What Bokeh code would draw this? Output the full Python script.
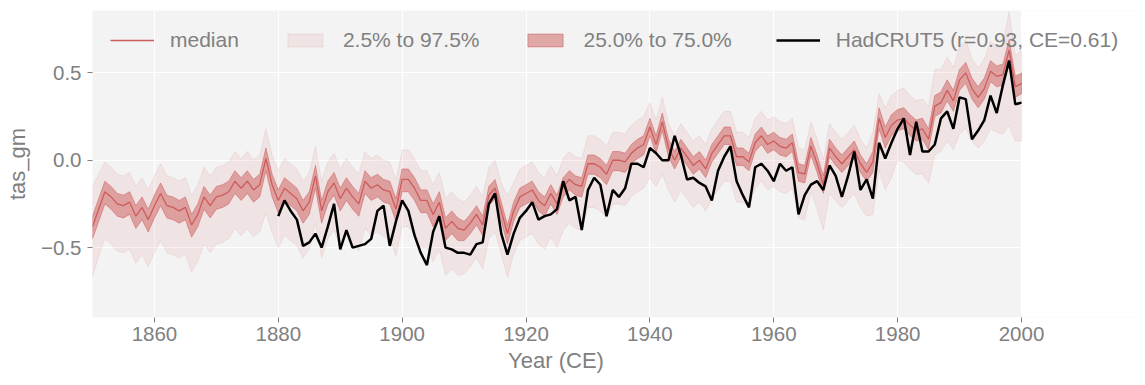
from bokeh.plotting import figure
from bokeh.models import Legend, LegendItem, FixedTicker, Range1d, BoxAnnotation, Title
from bokeh.embed import file_html
from bokeh.resources import INLINE

# ---------------- data ----------------
years = list(range(1850, 2001))

median = [
    -0.38, -0.28, -0.18, -0.21, -0.25, -0.26, -0.24, -0.32, -0.27, -0.34,
    -0.26, -0.19, -0.26, -0.27, -0.29, -0.27, -0.37, -0.31, -0.21, -0.26,
    -0.21, -0.20, -0.18, -0.12, -0.16, -0.12, -0.17, -0.14, 0.01, -0.14,
    -0.23, -0.16, -0.19, -0.22, -0.29, -0.24, -0.09, -0.29, -0.18, -0.13,
    -0.22, -0.16, -0.21, -0.25, -0.12, -0.16, -0.14, -0.17, -0.18, -0.28,
    -0.11, -0.11, -0.16, -0.23, -0.23, -0.31, -0.24, -0.39, -0.35, -0.39,
    -0.40, -0.36, -0.31, -0.37, -0.20, -0.16, -0.29, -0.42, -0.29, -0.21,
    -0.19, -0.17, -0.23, -0.26, -0.19, -0.25, -0.15, -0.11, -0.14, -0.15,
    -0.02, -0.02, -0.04, -0.08, 0.00, 0.00, -0.01, 0.04, 0.07, 0.09,
    0.19, 0.09, 0.22, 0.07, 0.00, 0.07, 0.02, -0.03, 0.00, -0.05,
    0.04, 0.09, 0.14, 0.14, 0.02, 0.02, -0.01, 0.10, 0.14, 0.09,
    0.11, 0.08, 0.07, 0.10, -0.07, -0.08, 0.08, -0.02, -0.14, 0.07,
    0.02, -0.02, 0.02, 0.06, -0.02, -0.07, -0.01, 0.24, 0.13, 0.20,
    0.23, 0.24, 0.20, 0.17, 0.18, 0.12, 0.31, 0.33, 0.40, 0.34,
    0.46, 0.50, 0.41, 0.36, 0.41, 0.51, 0.48, 0.49, 0.63, 0.42,
    0.44,
]

q75 = [
    -0.32, -0.22, -0.12, -0.15, -0.19, -0.20, -0.18, -0.26, -0.21, -0.28,
    -0.20, -0.13, -0.20, -0.21, -0.23, -0.21, -0.31, -0.25, -0.15, -0.20,
    -0.15, -0.14, -0.12, -0.06, -0.10, -0.06, -0.11, -0.08, 0.07, -0.08,
    -0.17, -0.10, -0.13, -0.16, -0.23, -0.18, -0.03, -0.23, -0.12, -0.07,
    -0.16, -0.10, -0.15, -0.19, -0.06, -0.10, -0.08, -0.11, -0.12, -0.22,
    -0.05, -0.05, -0.10, -0.17, -0.17, -0.25, -0.18, -0.33, -0.29, -0.33,
    -0.35, -0.31, -0.26, -0.32, -0.15, -0.11, -0.24, -0.37, -0.24, -0.16,
    -0.14, -0.12, -0.18, -0.21, -0.14, -0.20, -0.10, -0.06, -0.09, -0.10,
    0.03, 0.03, 0.01, -0.03, 0.05, 0.05, 0.04, 0.09, 0.12, 0.14,
    0.24, 0.14, 0.27, 0.12, 0.05, 0.12, 0.07, 0.02, 0.05, 0.00,
    0.09, 0.14, 0.19, 0.19, 0.07, 0.07, 0.04, 0.15, 0.19, 0.14,
    0.16, 0.13, 0.12, 0.15, -0.02, -0.03, 0.13, 0.03, -0.09, 0.12,
    0.07, 0.03, 0.07, 0.11, 0.03, -0.02, 0.05, 0.30, 0.19, 0.26,
    0.29, 0.30, 0.26, 0.23, 0.24, 0.18, 0.37, 0.39, 0.46, 0.40,
    0.52, 0.56, 0.47, 0.42, 0.47, 0.57, 0.54, 0.55, 0.69, 0.48,
    0.50,
]

q25 = [
    -0.45, -0.35, -0.25, -0.28, -0.32, -0.33, -0.31, -0.39, -0.34, -0.41,
    -0.33, -0.26, -0.33, -0.34, -0.36, -0.34, -0.44, -0.38, -0.28, -0.33,
    -0.28, -0.27, -0.25, -0.19, -0.23, -0.19, -0.24, -0.21, -0.06, -0.21,
    -0.30, -0.23, -0.26, -0.29, -0.36, -0.31, -0.16, -0.36, -0.25, -0.20,
    -0.29, -0.23, -0.28, -0.32, -0.19, -0.23, -0.21, -0.24, -0.25, -0.35,
    -0.18, -0.18, -0.23, -0.30, -0.30, -0.38, -0.31, -0.46, -0.42, -0.46,
    -0.46, -0.42, -0.37, -0.43, -0.26, -0.22, -0.35, -0.48, -0.35, -0.27,
    -0.25, -0.23, -0.29, -0.32, -0.25, -0.31, -0.21, -0.17, -0.20, -0.21,
    -0.08, -0.08, -0.10, -0.14, -0.06, -0.06, -0.07, -0.02, 0.01, 0.03,
    0.14, 0.04, 0.17, 0.02, -0.05, 0.02, -0.03, -0.08, -0.05, -0.10,
    -0.01, 0.04, 0.09, 0.09, -0.03, -0.03, -0.06, 0.05, 0.09, 0.04,
    0.06, 0.03, 0.02, 0.05, -0.12, -0.13, 0.03, -0.07, -0.19, 0.02,
    -0.03, -0.07, -0.03, 0.01, -0.07, -0.12, -0.07, 0.18, 0.07, 0.14,
    0.17, 0.18, 0.14, 0.11, 0.12, 0.06, 0.25, 0.27, 0.34, 0.28,
    0.40, 0.44, 0.35, 0.30, 0.35, 0.45, 0.42, 0.43, 0.57, 0.36,
    0.38,
]

q975 = [
    -0.15, -0.08, -0.01, -0.04, -0.08, -0.09, -0.07, -0.15, -0.10, -0.17,
    -0.09, -0.02, -0.09, -0.10, -0.12, -0.10, -0.20, -0.14, -0.04, -0.09,
    -0.04, -0.03, -0.01, 0.05, 0.01, 0.05, 0.00, 0.03, 0.18, 0.03,
    -0.06, 0.01, -0.02, -0.05, -0.12, -0.07, 0.08, -0.12, -0.01, 0.04,
    -0.05, 0.01, -0.04, -0.08, 0.05, 0.01, 0.03, 0.00, -0.01, -0.11,
    0.06, 0.06, 0.01, -0.06, -0.06, -0.14, -0.07, -0.22, -0.18, -0.22,
    -0.24, -0.20, -0.15, -0.21, -0.04, 0.00, -0.13, -0.20, -0.13, -0.05,
    -0.03, -0.01, -0.07, -0.10, -0.03, -0.09, 0.01, 0.05, 0.02, 0.01,
    0.14, 0.14, 0.12, 0.08, 0.16, 0.16, 0.15, 0.20, 0.23, 0.25,
    0.33, 0.23, 0.36, 0.21, 0.14, 0.21, 0.16, 0.11, 0.14, 0.09,
    0.18, 0.23, 0.28, 0.28, 0.16, 0.16, 0.13, 0.24, 0.28, 0.23,
    0.25, 0.22, 0.21, 0.24, 0.07, 0.06, 0.22, 0.12, 0.00, 0.21,
    0.16, 0.12, 0.16, 0.20, 0.12, 0.07, 0.16, 0.38, 0.30, 0.37,
    0.40, 0.41, 0.37, 0.34, 0.35, 0.31, 0.52, 0.52, 0.59, 0.53,
    0.65, 0.69, 0.58, 0.53, 0.58, 0.68, 0.65, 0.66, 0.85, 0.60,
    0.63,
]

q025 = [
    -0.67, -0.55, -0.45, -0.48, -0.52, -0.53, -0.51, -0.59, -0.54, -0.61,
    -0.53, -0.46, -0.53, -0.54, -0.56, -0.54, -0.64, -0.58, -0.48, -0.53,
    -0.48, -0.47, -0.45, -0.39, -0.43, -0.39, -0.44, -0.41, -0.30, -0.41,
    -0.50, -0.43, -0.46, -0.49, -0.56, -0.51, -0.36, -0.56, -0.45, -0.40,
    -0.49, -0.43, -0.48, -0.52, -0.39, -0.43, -0.41, -0.44, -0.45, -0.55,
    -0.38, -0.38, -0.43, -0.50, -0.50, -0.58, -0.51, -0.66, -0.62, -0.66,
    -0.65, -0.61, -0.56, -0.62, -0.45, -0.41, -0.54, -0.67, -0.54, -0.46,
    -0.44, -0.42, -0.48, -0.51, -0.44, -0.50, -0.40, -0.36, -0.39, -0.40,
    -0.27, -0.27, -0.29, -0.33, -0.25, -0.25, -0.26, -0.21, -0.18, -0.16,
    -0.10, -0.15, -0.08, -0.17, -0.24, -0.17, -0.22, -0.27, -0.24, -0.29,
    -0.22, -0.17, -0.12, -0.12, -0.24, -0.24, -0.27, -0.16, -0.12, -0.17,
    -0.15, -0.18, -0.19, -0.16, -0.33, -0.34, -0.18, -0.28, -0.40, -0.19,
    -0.23, -0.27, -0.23, -0.19, -0.27, -0.32, -0.31, -0.06, -0.17, -0.10,
    0.00, -0.01, -0.05, -0.08, -0.08, -0.13, 0.03, 0.05, 0.11, 0.06,
    0.15, 0.18, 0.11, 0.07, 0.11, 0.18, 0.16, 0.15, 0.20, 0.11,
    0.11,
]

had_years = list(range(1880, 2001))
hadcrut = [
    -0.32, -0.23, -0.29, -0.34, -0.49, -0.47, -0.42, -0.50, -0.38, -0.25,
    -0.51, -0.40, -0.50, -0.49, -0.48, -0.45, -0.29, -0.26, -0.49, -0.35,
    -0.23, -0.29, -0.43, -0.53, -0.60, -0.41, -0.32, -0.50, -0.51, -0.53,
    -0.53, -0.54, -0.48, -0.47, -0.25, -0.19, -0.42, -0.54, -0.42, -0.33,
    -0.29, -0.24, -0.34, -0.32, -0.31, -0.28, -0.12, -0.23, -0.21, -0.40,
    -0.17, -0.10, -0.14, -0.32, -0.17, -0.21, -0.16, -0.02, -0.02, -0.04,
    0.07, 0.04, 0.00, 0.00, 0.14, 0.03, -0.11, -0.10, -0.13, -0.15,
    -0.23, -0.06, 0.02, 0.08, -0.12, -0.20, -0.27, -0.04, -0.02, -0.06,
    -0.12, -0.02, -0.06, -0.04, -0.31, -0.20, -0.14, -0.12, -0.17, -0.03,
    -0.09, -0.21, -0.09, 0.05, -0.17, -0.11, -0.22, 0.10, 0.01, 0.10,
    0.18, 0.24, 0.03, 0.22, 0.05, 0.05, 0.09, 0.24, 0.28, 0.18,
    0.36, 0.35, 0.12, 0.17, 0.23, 0.37, 0.27, 0.43, 0.57, 0.32,
    0.33,
]

x_ticks = [1860, 1880, 1900, 1920, 1940, 1960, 1980, 2000]
y_ticks = [-0.5, 0.0, 0.5]
y_tick_labels = {-0.5: "\u22120.5", 0.0: "0.0", 0.5: "0.5"}

label_median = "median"
label_outer = "2.5% to 97.5%"
label_inner = "25.0% to 75.0%"
label_obs = "HadCRUT5 (r=0.93, CE=0.61)"

# ---------------- style / layout ----------------
FONT = "Liberation Sans"
TXT = "#808080"
RED = "indianred"

X0, X1 = 1850, 2000
PLOT_W = 929            # pixel width of the 1850-2000 data area
FRAME_W = 1045          # frame extended to the right so the legend is not clipped
FRAME_H = 307
x_end = X0 + (X1 - X0) * FRAME_W / PLOT_W

p = figure(frame_width=FRAME_W, frame_height=FRAME_H,
           output_backend="svg", toolbar_location=None,
           x_range=Range1d(X0, x_end), y_range=Range1d(-0.9, 0.857),
           min_border_left=92, min_border_right=0, min_border_top=10,
           min_border_bottom=0)
p.background_fill_color = "#f3f3f3"
p.border_fill_color = "white"
p.outline_line_color = None

# white mask over the part of the frame to the right of the data area
p.add_layout(BoxAnnotation(left=X1, fill_color="white", fill_alpha=1.0,
                           line_alpha=0, level="underlay"))

outer_x = years + years[::-1]
outer_y = q975 + q025[::-1]
inner_x = years + years[::-1]
inner_y = q75 + q25[::-1]

r_outer = p.patch(outer_x, outer_y, fill_color=RED, fill_alpha=0.1,
                  line_color=RED, line_alpha=0.1, line_width=1)
r_inner = p.patch(inner_x, inner_y, fill_color=RED, fill_alpha=0.5,
                  line_color=RED, line_alpha=0.5, line_width=1)
r_med = p.line(years, median, line_color=RED, line_width=1.3)
r_obs = p.line(had_years, hadcrut, line_color="black", line_width=2.5)

for ax in (p.xaxis, p.yaxis):
    ax.axis_line_color = None
    ax.major_tick_line_color = TXT
    ax.major_tick_out = 5
    ax.major_tick_in = 0
    ax.minor_tick_line_color = None
    ax.major_label_text_font = FONT
    ax.major_label_text_font_size = "20.5px"
    ax.major_label_text_color = TXT
    ax.axis_label_text_font = FONT
    ax.axis_label_text_font_size = "22px"
    ax.axis_label_text_font_style = "normal"
    ax.axis_label_text_color = TXT

p.xaxis.major_label_standoff = 4
p.yaxis.major_label_standoff = 6
p.yaxis.axis_label_standoff = 8

p.xaxis.ticker = FixedTicker(ticks=x_ticks)
p.yaxis.ticker = FixedTicker(ticks=y_ticks)
p.yaxis.major_label_overrides = y_tick_labels
p.yaxis.axis_label = "tas_gm"

# x-axis label centred under the 1850-2000 data area
xlab_font_px = 22
xlab_w = 4.445 * xlab_font_px
p.add_layout(Title(text="Year (CE)", align="left",
                   offset=PLOT_W / 2 - xlab_w / 2,
                   text_font=FONT, text_font_size=f"{xlab_font_px}px",
                   text_font_style="normal", text_color=TXT, standoff=5), "below")

p.xgrid.grid_line_color = "white"
p.ygrid.grid_line_color = "white"
p.xgrid.grid_line_width = 1.2
p.ygrid.grid_line_width = 1.2

legend = Legend(items=[
    LegendItem(label=label_median, renderers=[r_med]),
    LegendItem(label=label_outer, renderers=[r_outer]),
    LegendItem(label=label_inner, renderers=[r_inner]),
    LegendItem(label=label_obs, renderers=[r_obs]),
], orientation="horizontal", location=(18, FRAME_H - 42))
legend.margin = 0
legend.padding = 0
legend.spacing = 44
legend.glyph_width = 44
legend.glyph_height = 16
legend.label_standoff = 16
legend.label_height = 20
legend.label_text_font = FONT
legend.label_text_font_size = "21px"
legend.label_text_color = TXT
legend.background_fill_alpha = 0
legend.border_line_alpha = 0
p.add_layout(legend)

open("out.html", "w").write(file_html(p, INLINE))
